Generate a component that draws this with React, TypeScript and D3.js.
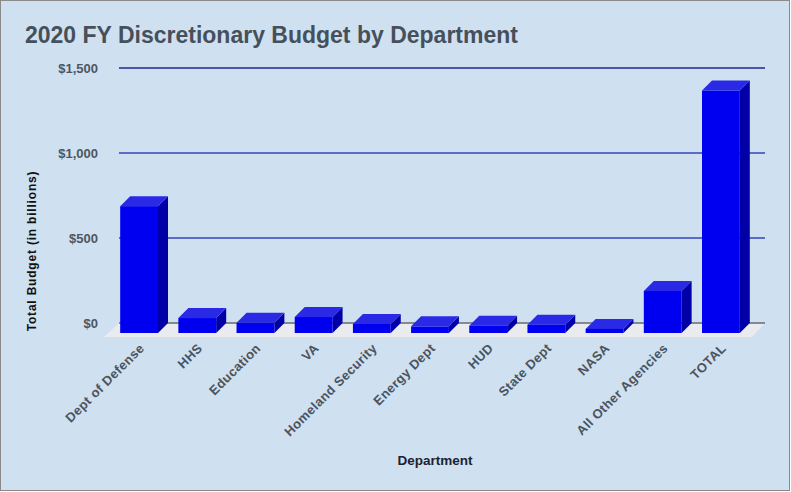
import React, { useEffect, useRef } from 'react'
import * as d3 from 'd3'

const departments = [
  'Dept of Defense', 'HHS', 'Education', 'VA', 'Homeland Security', 'Energy Dept',
  'HUD', 'State Dept', 'NASA', 'All Other Agencies', 'TOTAL'
]
const budgets = [746, 88, 60, 94, 53, 39, 43, 49, 24, 247, 1426]
const yTicks = [0, 500, 1000, 1500]

const FONT = 'Liberation Sans, Arial, sans-serif'

export default function App() {
  const svgRef = useRef(null)
  const width = 791
  const height = 492

  useEffect(() => {
    const svg = d3.select(svgRef.current)
    svg.selectAll('*').remove()

    // depth offset of the 3d box
    const DX = 10
    const DY = -10

    const x = d3.scaleBand()
      .domain(departments)
      .range([110, 750])
      .paddingInner(0.35)
      .paddingOuter(0.175)

    // front plane scale; gridlines sit on the back wall (shifted by depth)
    const y = d3.scaleLinear().domain([0, 1500]).range([333, 78])

    svg.append('rect')
      .attr('x', 0.5).attr('y', 0.5)
      .attr('width', width - 2).attr('height', height - 2)
      .attr('fill', '#cfe0f1')
      .attr('stroke', '#8a8a8a')

    svg.append('text')
      .attr('x', 25).attr('y', 43)
      .style('font-family', FONT)
      .style('font-weight', 'bold')
      .style('font-size', '23px')
      .style('fill', '#46505a')
      .text('2020 FY Discretionary Budget by Department')

    const [x0, x1] = x.range()
    const y0 = y(0)

    // floor
    svg.append('polygon')
      .attr('points', [
        [x0 - 1 + DX, y0 + DY], [x1 + 5 + DX, y0 + DY],
        [x1 + 2, y0 + 4], [x0 - 6, y0 + 4]
      ].map(p => p.join(',')).join(' '))
      .attr('fill', '#e9ebee')

    // gridlines
    svg.selectAll('.grid')
      .data(yTicks)
      .enter().append('line')
      .attr('x1', x0 - 1 + DX)
      .attr('x2', x1 + 5 + DX)
      .attr('y1', d => y(d) + DY)
      .attr('y2', d => y(d) + DY)
      .attr('stroke', d => d === 0 ? '#666b70' : d === 1500 ? '#1e2a90' : '#3545b8')
      .attr('stroke-width', 1.5)

    svg.selectAll('.ytick')
      .data(yTicks)
      .enter().append('text')
      .attr('x', 98)
      .attr('y', d => y(d) + DY)
      .attr('dy', '0.35em')
      .style('text-anchor', 'end')
      .style('font-family', FONT)
      .style('font-weight', 'bold')
      .style('font-size', '13px')
      .style('fill', '#4d565f')
      .text(d => '$' + d3.format(',')(d))

    // bars
    const bars = svg.selectAll('.bar')
      .data(departments.map((d, i) => ({ name: d, value: budgets[i] })))
      .enter().append('g')

    const bw = x.bandwidth()

    bars.append('polygon')
      .attr('points', d => {
        const bx = x(d.name) + bw
        const top = y(d.value)
        return [[bx, top], [bx + DX, top + DY], [bx + DX, y0 + DY], [bx, y0]]
          .map(p => p.join(',')).join(' ')
      })
      .attr('fill', '#0000a6')

    bars.append('polygon')
      .attr('points', d => {
        const bx = x(d.name)
        const top = y(d.value)
        return [[bx, top], [bx + DX, top + DY], [bx + bw + DX, top + DY], [bx + bw, top]]
          .map(p => p.join(',')).join(' ')
      })
      .attr('fill', '#2a2ae6')

    bars.append('rect')
      .attr('x', d => x(d.name))
      .attr('y', d => y(d.value))
      .attr('width', bw)
      .attr('height', d => y0 - y(d.value))
      .attr('fill', '#0000f0')

    // category labels
    svg.selectAll('.xlabel')
      .data(departments)
      .enter().append('text')
      .attr('transform', d => `translate(${x(d) + bw / 2 + 6},${y0 + 16}) rotate(-45)`)
      .style('text-anchor', 'end')
      .style('font-family', FONT)
      .style('font-weight', 'bold')
      .style('font-size', '13px')
      .style('letter-spacing', '0.4px')
      .style('fill', '#4a545e')
      .text(d => d)

    svg.append('text')
      .attr('transform', 'translate(36,251) rotate(-90)')
      .style('text-anchor', 'middle')
      .style('font-family', FONT)
      .style('font-weight', 'bold')
      .style('font-size', '12px')
      .style('letter-spacing', '0.8px')
      .style('fill', '#111')
      .text('Total Budget (in billions)')

    svg.append('text')
      .attr('x', 435).attr('y', 465)
      .style('text-anchor', 'middle')
      .style('font-family', FONT)
      .style('font-weight', 'bold')
      .style('font-size', '13.5px')
      .style('fill', '#1c2230')
      .text('Department')
  }, [])

  return (
    <svg
      ref={svgRef}
      width={width}
      height={height}
      style={{ position: 'absolute', left: 0, top: 0 }}
    />
  )
}
